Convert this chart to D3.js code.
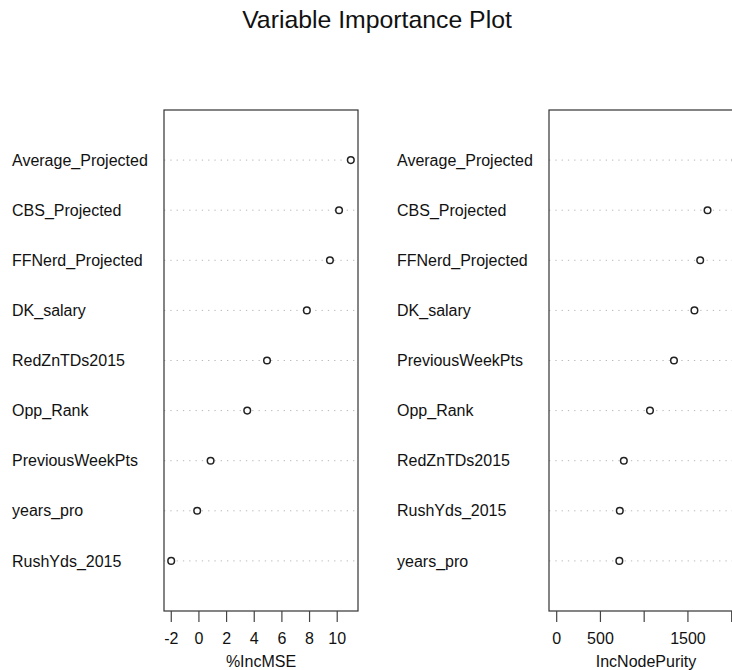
<!DOCTYPE html>
<html>
<head>
<meta charset="utf-8">
<script src="https://cdn.jsdelivr.net/npm/d3@7"></script>
<style>
  body { margin: 0; background: white; }
  svg { display: block; }
  text { font-family: "Liberation Sans", Arial, Helvetica, sans-serif; fill: #111; }
</style>
</head>
<body>
<script>
// variables, in the order of the %IncMSE panel
const variables = ["Average_Projected", "CBS_Projected", "FFNerd_Projected", "DK_salary",
    "RedZnTDs2015", "Opp_Rank", "PreviousWeekPts", "years_pro", "RushYds_2015"];
const incMSE = [11.02, 10.17, 9.51, 7.84, 4.96, 3.53, 0.88, -0.09, -1.97];
const incNodePurity = [2053, 1730, 1646, 1580, 773, 1072, 1346, 722, 727];

const mseTicks = [-2, 0, 2, 4, 6, 8, 10];
const purityTicks = [0, 500, 1000, 1500, 2000];
const purityTickLabels = ["0", "500", "", "1500", ""];

const title = "Variable Importance Plot";

const width = 732, height = 670;
const boxTop = 110, boxBottom = 611;
const panelW = 194;

const svg = d3.select("body")
    .append("svg")
    .attr("width", width)
    .attr("height", height);

// title
svg.append("text")
    .attr("x", 377)
    .attr("y", 28)
    .attr("text-anchor", "middle")
    .style("font-size", "24.8px")
    .text(title);

//rows: 1..n from bottom, like dotchart
const yScale = d3.scaleLinear()
    .domain([0, variables.length + 1])
    .range([boxBottom, boxTop]);

function drawPanel(left, values, xlab, ticks, tickFmt, xmin){
    const rows = variables.map((v, i) => ({ name: v, value: values[i] }))
        .sort((a, b) => a.value - b.value); // smallest at bottom (row 1)

    // 4% extension of the range, like R
    let lo = Math.min(xmin, d3.min(rows, d => d.value));
    let hi = d3.max(rows, d => d.value);
    const pad = (hi - lo) * 0.04;

    const xScale = d3.scaleLinear()
        .domain([lo - pad, hi + pad])
        .range([left, left + panelW]);

    const g = svg.append("g");

    //dotted guide lines
    g.selectAll("line.guide")
        .data(rows)
        .join("line")
        .attr("class", "guide")
        .attr("x1", left)
        .attr("x2", left + panelW)
        .attr("y1", (d, i) => yScale(i + 1))
        .attr("y2", (d, i) => yScale(i + 1))
        .attr("stroke", "#b8b8b8")
        .attr("stroke-width", 1)
        .attr("stroke-dasharray", "1.3,5");

    //points
    g.selectAll("circle")
        .data(rows)
        .join("circle")
        .attr("cx", d => xScale(d.value))
        .attr("cy", (d, i) => yScale(i + 1))
        .attr("r", 3.3)
        .attr("fill", "white")
        .attr("stroke", "#222")
        .attr("stroke-width", 1.5);

    //labels in the margin
    g.selectAll("text.lab")
        .data(rows)
        .join("text")
        .attr("class", "lab")
        .attr("x", left - 152)
        .attr("y", (d, i) => yScale(i + 1))
        .attr("dy", "0.35em")
        .style("font-size", "16px")
        .text(d => d.name);

    //box
    g.append("rect")
        .attr("x", left)
        .attr("y", boxTop)
        .attr("width", panelW)
        .attr("height", boxBottom - boxTop)
        .attr("fill", "none")
        .attr("stroke", "#333")
        .attr("stroke-width", 1.2);

    //x axis
    const axis = g.append("g")
        .attr("transform", `translate(0, ${boxBottom})`)
        .call(d3.axisBottom(xScale)
            .tickValues(ticks)
            .tickSize(11)
            .tickPadding(11)
            .tickFormat(tickFmt));
    axis.select(".domain").remove();
    axis.selectAll(".tick line").attr("stroke", "#444").attr("stroke-width", 1.2);
    axis.selectAll(".tick text")
        .style("font-size", "16px")
        .style("font-family", "'Liberation Sans', Arial, sans-serif")
        .attr("fill", "#111");

    //x label
    g.append("text")
        .attr("x", left + panelW / 2)
        .attr("y", 667)
        .attr("text-anchor", "middle")
        .style("font-size", "16px")
        .text(xlab);
}

drawPanel(164, incMSE, "%IncMSE", mseTicks, d => d, Infinity);
drawPanel(549, incNodePurity, "IncNodePurity", purityTicks,
    d => purityTickLabels[purityTicks.indexOf(d)], 0);
</script>
</body>
</html>
